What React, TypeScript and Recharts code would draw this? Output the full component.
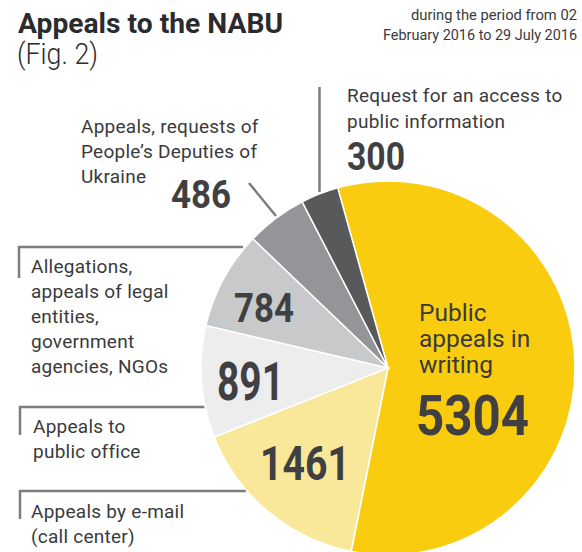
import React from 'react';
import { PieChart, Pie, Cell } from 'recharts';

const categories = [
  'Public appeals in writing',
  'Appeals by e-mail (call center)',
  'Appeals to public office',
  'Allegations, appeals of legal entities, government agencies, NGOs',
  "Appeals, requests of People's Deputies of Ukraine",
  'Request for an access to public information',
];
const values = [5304, 1461, 891, 784, 486, 300];
const colors = ['#FACC0F', '#FAE89A', '#EDEDEE', '#C8C9CB', '#939598', '#58595B'];

// label placement (left x, baseline y, font size, width)
const labelStyle = [
  { x: 416, y: 435, size: 56, w: 113 },
  { x: 260, y: 480, size: 49, w: 90 },
  { x: 217, y: 400, size: 53, w: 67 },
  { x: 234, y: 322, size: 40, w: 60 },
  { x: 171, y: 208, size: 38, w: 60 },
  { x: 347, y: 170, size: 38, w: 58 },
];

const data = categories.map((name, i) => ({ name, value: values[i] }));

const FONT = 'Roboto, "Noto Sans", sans-serif';
const TEXT = '#3a3a3c';
const NUM = '#404042';
const LINE = '#7c7d80';

const renderLabel = (props: any) => {
  const i = props.index;
  const s = labelStyle[i];
  return (
    <text
      key={`lbl-${i}`}
      x={s.x}
      y={s.y}
      fontFamily={FONT}
      fontWeight={700}
      fontSize={s.size}
      fill={NUM}
      textLength={s.w}
      lengthAdjust="spacingAndGlyphs"
    >
      {String(props.value)}
    </text>
  );
};

export default function App() {
  const lineTxt = { fontFamily: FONT, fontSize: 19, fill: TEXT, letterSpacing: 0.25 } as const;
  return (
    <div style={{ position: 'absolute', left: 0, top: 0, width: 582, height: 552, background: '#fff' }}>
      <svg width={582} height={552} style={{ position: 'absolute', left: 0, top: 0 }}>
        <text x={18} y={33} fontFamily={FONT} fontWeight={700} fontSize={28} fill="#2b2b2d" textLength={265} lengthAdjust="spacingAndGlyphs">
          Appeals to the NABU
        </text>
        <text x={17} y={64} fontFamily={FONT} fontWeight={300} fontSize={29} fill="#2b2b2d" textLength={81} lengthAdjust="spacingAndGlyphs">
          (Fig. 2)
        </text>
        <text x={577} y={20} textAnchor="end" fontFamily={FONT} fontSize={15} fill={TEXT} textLength={166} lengthAdjust="spacingAndGlyphs">
          during the period from 02
        </text>
        <text x={577} y={39.5} textAnchor="end" fontFamily={FONT} fontSize={15} fill={TEXT} textLength={194} lengthAdjust="spacingAndGlyphs">
          February 2016 to 29 July 2016
        </text>

        {/* leader lines */}
        <line x1={319.5} y1={87} x2={319.5} y2={192} stroke={LINE} strokeWidth={2.5} />
        <line x1={249} y1={183} x2={276} y2={216} stroke={LINE} strokeWidth={2.5} />
        <polyline points="19,278 19,247 243,247" fill="none" stroke={LINE} strokeWidth={2.5} />
        <polyline points="20,435 20,407 205,407" fill="none" stroke={LINE} strokeWidth={2.5} />
        <polyline points="20,519 20,491 246,491" fill="none" stroke={LINE} strokeWidth={2.5} />

        <text {...lineTxt} x={347} y={102}>Request for an access to</text>
        <text {...lineTxt} x={347} y={128}>public information</text>

        <text {...lineTxt} x={81} y={133}>Appeals, requests of</text>
        <text {...lineTxt} x={81} y={158}>People’s Deputies of</text>
        <text {...lineTxt} x={81} y={183}>Ukraine</text>

        <text {...lineTxt} x={31} y={273}>Allegations,</text>
        <text {...lineTxt} x={31} y={298}>appeals of legal</text>
        <text {...lineTxt} x={31} y={323}>entities,</text>
        <text {...lineTxt} x={31} y={348}>government</text>
        <text {...lineTxt} x={31} y={373}>agencies, NGOs</text>

        <text {...lineTxt} x={33} y={433}>Appeals to</text>
        <text {...lineTxt} x={33} y={458}>public office</text>

        <text {...lineTxt} x={31} y={518}>Appeals by e-mail</text>
        <text {...lineTxt} x={31} y={543}>(call center)</text>
      </svg>
      <div style={{ position: 'absolute', left: 0, top: 0 }}>
        <PieChart width={582} height={552} margin={{ top: 0, right: 0, bottom: 0, left: 0 }}>
          <Pie
            data={data}
            dataKey="value"
            nameKey="name"
            cx={388}
            cy={368}
            outerRadius={187}
            startAngle={105.6}
            endAngle={-254.4}
            stroke="#ffffff"
            strokeWidth={1.5}
            isAnimationActive={false}
            labelLine={false}
            label={renderLabel}
          >
            {data.map((d, i) => (
              <Cell key={d.name} fill={colors[i]} />
            ))}
          </Pie>
        </PieChart>
      </div>
      <svg width={582} height={552} style={{ position: 'absolute', left: 0, top: 0, pointerEvents: 'none' }}>
        <text x={419} y={321} fontFamily={FONT} fontSize={24.5} fill={TEXT}>Public</text>
        <text x={419} y={347} fontFamily={FONT} fontSize={24.5} fill={TEXT}>appeals in</text>
        <text x={419} y={373} fontFamily={FONT} fontSize={24.5} fill={TEXT}>writing</text>
      </svg>
    </div>
  );
}
